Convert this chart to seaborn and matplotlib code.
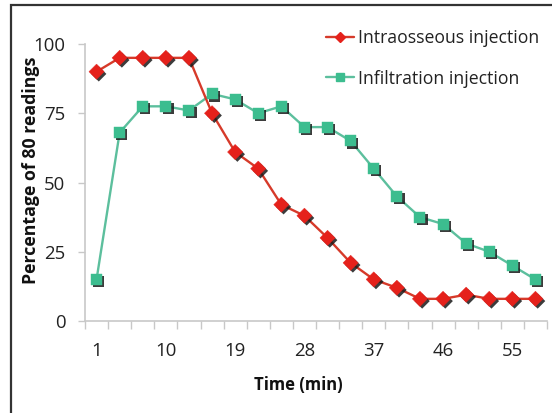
import matplotlib
matplotlib.use("Agg")
import matplotlib.pyplot as plt
import matplotlib.patheffects as pe
from matplotlib.lines import Line2D
from matplotlib.patches import Rectangle
import seaborn as sns
import pandas as pd

time_min = [1, 4, 7, 10, 13, 16, 19, 22, 25, 28, 31, 34, 37, 40, 43, 46, 49, 52, 55, 58]
intraosseous = [90, 95, 95, 95, 95, 75, 61, 55, 42, 38, 30, 21, 15, 12, 8, 8, 9.5, 8, 8, 8]
infiltration = [15, 68, 77.5, 77.5, 76, 82, 80, 75, 77.5, 70, 70, 65, 55, 45, 37.5, 35, 28, 25, 20, 15]
tick_labels = [1, 10, 19, 28, 37, 46, 55]
series_names = ["Intraosseous injection", "Infiltration injection"]

RED_LINE, RED_MARK = "#d63a2a", "#e5211b"
GRN_LINE, GRN_MARK = "#5cbf9d", "#3cbd8f"

sns.set_theme(style="white")
plt.rcParams["font.family"] = ["Open Sans", "DejaVu Sans"]

fig = plt.figure(figsize=(5.52, 4.13), dpi=100)
W, H = 552, 413
ax = fig.add_axes([85 / W, 1 - 321 / H, 462 / W, 277 / H])

df_a = pd.DataFrame({"t": time_min, "v": intraosseous})
df_b = pd.DataFrame({"t": time_min, "v": infiltration})

sns.lineplot(data=df_b, x="t", y="v", ax=ax, color=GRN_LINE, lw=1.7, zorder=2)
sns.lineplot(data=df_a, x="t", y="v", ax=ax, color=RED_LINE, lw=1.7, zorder=3)
shadow = [pe.SimplePatchShadow(offset=(1.6, -1.6), shadow_rgbFace="#1a1a1a", alpha=0.85), pe.Normal()]
sns.scatterplot(data=df_b, x="t", y="v", ax=ax, marker="s", s=62, color=GRN_MARK,
                edgecolor=GRN_MARK, linewidth=0.3, zorder=4, path_effects=shadow)
sns.scatterplot(data=df_a, x="t", y="v", ax=ax, marker="D", s=60, color=RED_MARK,
                edgecolor=RED_MARK, linewidth=0.3, zorder=5, path_effects=shadow)

ax.set_xlim(time_min[0] - 1.5, time_min[-1] + 1.5)
ax.set_ylim(0, 100)
ax.set_yticks([0, 25, 50, 75, 100])
ax.set_xticks(tick_labels)
ax.set_xticklabels([str(t) for t in tick_labels])
ax.set_xticks([t - 1.5 for t in time_min] + [time_min[-1] + 1.5], minor=True)

for s in ["top", "right"]:
    ax.spines[s].set_visible(False)
for s in ["left", "bottom"]:
    ax.spines[s].set_color("#c8c8c8")
    ax.spines[s].set_linewidth(1.2)

ax.tick_params(axis="x", which="major", length=0, pad=15, labelsize=13.4, labelcolor="#222222")
ax.tick_params(axis="x", which="minor", length=5.5, width=1.0, color="#c8c8c8", direction="out", bottom=True)
ax.tick_params(axis="y", which="major", length=5, width=1.0, color="#c8c8c8", direction="out",
               left=True, pad=9, labelsize=13.4, labelcolor="#222222")

ax.set_xlabel("Time (min)", fontsize=12, fontweight="bold", color="#111111")
ax.set_ylabel("Percentage of 80 readings", fontsize=12.8, fontweight="bold", color="#111111")
ax.xaxis.set_label_coords(0.461, -0.231)
ax.yaxis.set_label_coords(-0.117, 0.545)
ax.xaxis.label.set_va("center")
ax.yaxis.label.set_va("center")

handles = [
    Line2D([], [], color=RED_LINE, lw=1.7, marker="D", markersize=5, markerfacecolor=RED_MARK,
           markeredgecolor=RED_MARK),
    Line2D([], [], color=GRN_LINE, lw=1.7, marker="s", markersize=6, markerfacecolor=GRN_MARK,
           markeredgecolor=GRN_MARK),
]
leg = fig.legend(handles, series_names, loc="upper left", bbox_to_anchor=(319 / W, 1 - 22 / H),
                 frameon=False, fontsize=12.7, handlelength=1.6, handletextpad=0.2,
                 labelspacing=1.28, borderaxespad=0)
for t in leg.get_texts():
    t.set_color("#222222")

frame = Rectangle((11 / W, -0.05), 1.2, 1 - 5 / H + 0.05, transform=fig.transFigure,
                  fill=False, edgecolor="#333333", lw=1.6, clip_on=False)
fig.add_artist(frame)

fig.savefig("out.png", dpi=100)
